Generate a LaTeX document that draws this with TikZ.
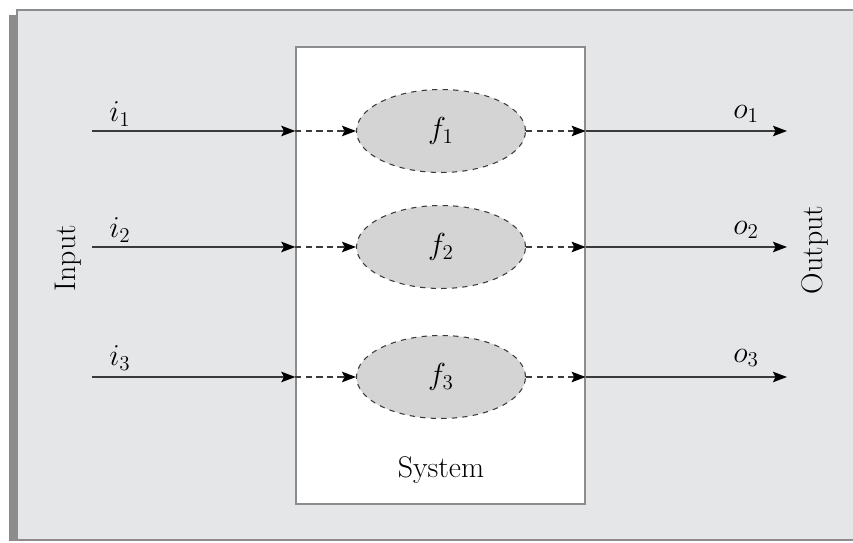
\documentclass[tikz,border=0pt]{standalone}
\usepackage{tikz}
\usetikzlibrary{arrows.meta, positioning, shapes.geometric, calc}
\usepackage{amsmath}

\definecolor{panelgray}{HTML}{E5E6E8}
\definecolor{edgegray}{HTML}{8C8C8C}
\definecolor{funcgray}{HTML}{D4D4D4}
\definecolor{linegray}{HTML}{3A3A3A}

\tikzset{
  sysbox/.style={draw=edgegray, fill=white, line width=0.8pt,
                 minimum width=5.78cm, minimum height=9.14cm},
  func/.style={ellipse, draw=linegray, dashed, fill=funcgray, line width=0.6pt,
               minimum width=3.38cm, minimum height=1.66cm, inner sep=0pt},
  sig/.style={->, draw=linegray, line width=0.7pt},
  sigdash/.style={->, draw=linegray, line width=0.7pt,
                  dash pattern=on 3.5pt off 2.5pt},
}

\begin{document}
\begin{tikzpicture}[x=0.02cm, y=-0.02cm,
                    >={Stealth[length=8pt, width=6pt, inset=1.5pt, color=black]},
                    font=\fontsize{17}{20}\selectfont]
  \useasboundingbox (0,0) rectangle (853,543);

  % Panel
  \fill[edgegray] (9,15) rectangle (17,541);
  \fill[panelgray] (17,10) rectangle (853,540);
  \draw[edgegray, line width=1pt] (853,10) -- (17,10) -- (17,540) -- (853,540);

  % System box
  \node[sysbox] (sys) at (440.5,275.5) {};
  \node (syslabel) at (441,470) {System};

  % Functions
  \node[func] (f1) at (441,131) {$f_1$};
  \node[func] (f2) at (441,247) {$f_2$};
  \node[func] (f3) at (441,377) {$f_3$};

  % Input / output ends
  \coordinate (in1) at (92,131);
  \coordinate (in2) at (92,247);
  \coordinate (in3) at (92,377);
  \coordinate (out1) at (787,131);
  \coordinate (out2) at (787,247);
  \coordinate (out3) at (787,377);

  % Row 1
  \draw[sig] (in1) -- (in1 -| sys.west);
  \draw[sigdash] (in1 -| sys.west) -- (f1.west);
  \draw[sigdash] (f1.east) -- (f1 -| sys.east);
  \draw[sig] (f1 -| sys.east) -- (out1);

  % Row 2
  \draw[sig] (in2) -- (in2 -| sys.west);
  \draw[sigdash] (in2 -| sys.west) -- (f2.west);
  \draw[sigdash] (f2.east) -- (f2 -| sys.east);
  \draw[sig] (f2 -| sys.east) -- (out2);

  % Row 3
  \draw[sig] (in3) -- (in3 -| sys.west);
  \draw[sigdash] (in3 -| sys.west) -- (f3.west);
  \draw[sigdash] (f3.east) -- (f3 -| sys.east);
  \draw[sig] (f3 -| sys.east) -- (out3);

  % Labels
  \node (i1) at (120,114) {$i_1$};
  \node (i2) at (120,230) {$i_2$};
  \node (i3) at (120,358) {$i_3$};
  \node (o1) at (746,114) {$o_1$};
  \node (o2) at (746,230) {$o_2$};
  \node (o3) at (746,358) {$o_3$};
  \node[rotate=90] (input) at (68,258) {Input};
  \node[rotate=90] (output) at (815,250) {Output};
\end{tikzpicture}
\end{document}
